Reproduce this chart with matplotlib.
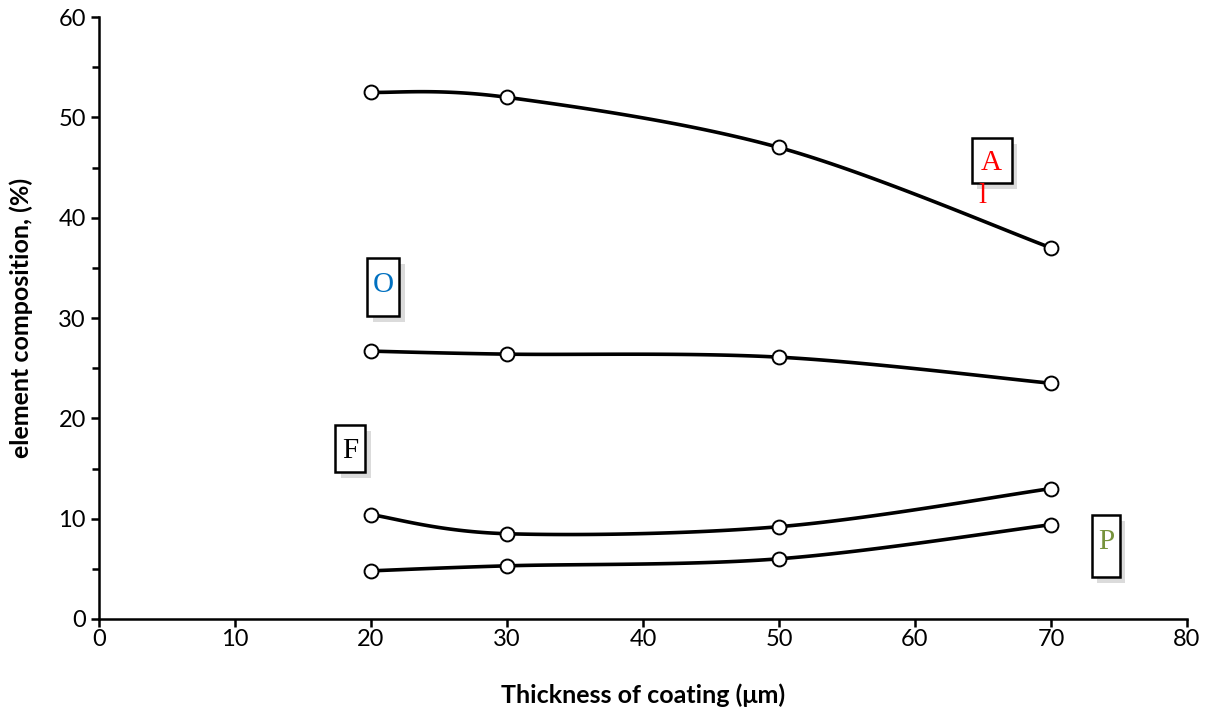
import matplotlib
matplotlib.use('Agg')
import matplotlib.pyplot as plt
import matplotlib.patheffects as pe
from matplotlib.patches import Rectangle
from matplotlib.ticker import MultipleLocator
import numpy as np

thickness = [20, 30, 50, 70]
al = [52.5, 52.0, 47.0, 37.0]
oxy = [26.7, 26.4, 26.1, 23.5]
fl = [10.4, 8.5, 9.2, 13.0]
ph = [4.8, 5.3, 6.0, 9.4]


def smooth(xs, ys, n=40):
    # Excel-style smoothed line (Catmull-Rom through the points)
    x = np.asarray(xs, float)
    y = np.asarray(ys, float)
    px = np.concatenate([[x[0]], x, [x[-1]]])
    py = np.concatenate([[y[0]], y, [y[-1]]])
    ox, oy = [], []
    for i in range(1, len(px) - 2):
        p0, p1, p2, p3 = (np.array([px[j], py[j]]) for j in (i - 1, i, i + 1, i + 2))
        c1 = p1 + (p2 - p0) / 6
        c2 = p2 - (p3 - p1) / 6
        t = np.linspace(0, 1, n)[:, None]
        b = (1 - t) ** 3 * p1 + 3 * (1 - t) ** 2 * t * c1 + 3 * (1 - t) * t ** 2 * c2 + t ** 3 * p2
        ox.extend(b[:, 0]); oy.extend(b[:, 1])
    return ox, oy


plt.rcParams.update({'font.family': 'Lato', 'font.size': 17})
fig = plt.figure(figsize=(12.05, 7.11), dpi=100)
ax = fig.add_axes([0.0822, 0.1294, 0.9028, 0.8466])

for ys in [al, oxy, fl, ph]:
    sx, sy = smooth(thickness, ys)
    ax.plot(sx, sy, color='black', lw=2.6, zorder=2)
    ax.plot(thickness, ys, 'o', ms=10, mfc='white', mec='black', mew=1.4, zorder=3)

ax.set_xlim(0, 80)
ax.set_ylim(0, 60)
ax.xaxis.set_major_locator(MultipleLocator(10))
ax.yaxis.set_major_locator(MultipleLocator(10))
ax.yaxis.set_minor_locator(MultipleLocator(5))
ax.tick_params(axis='both', which='major', direction='out', length=6, width=1.8, labelsize=17)
ax.tick_params(axis='y', which='minor', direction='out', length=5, width=1.8)
ax.tick_params(axis='x', pad=1)
for s in ['top', 'right']:
    ax.spines[s].set_visible(False)
for s in ['left', 'bottom']:
    ax.spines[s].set_linewidth(1.8)

ax.set_xlabel('Thickness of coating (μm)', fontsize=18, fontweight='bold', labelpad=24)
ax.set_ylabel('element composition, (%)', fontsize=18, fontweight='bold', labelpad=18)

boxes = [
    ('A', 'red', (64.19, 43.46), 2.94, 4.48, (65.6, 45.45)),
    ('O', '#0070C0', (19.71, 30.2), 2.35, 5.78, (20.88, 33.29)),
    ('F', 'black', (17.35, 14.65), 2.21, 4.69, (18.5, 16.74)),
    ('P', '#77933C', (73.01, 4.19), 2.06, 6.18, (74.1, 7.67)),
]
shadow = [pe.SimplePatchShadow(offset=(4, -4), shadow_rgbFace='#999999', alpha=0.35), pe.Normal()]
for txt, col, xy, w, h, tpos in boxes:
    r = Rectangle(xy, w, h, facecolor='white', edgecolor='black', lw=1.8, zorder=4)
    r.set_path_effects(shadow)
    ax.add_patch(r)
    ax.text(*tpos, txt, color=col, family='Liberation Serif', fontsize=21,
            ha='center', va='center', zorder=5)
ax.text(65.0, 42.2, 'l', color='red', family='Liberation Serif', fontsize=21,
        ha='center', va='center', zorder=5)

fig.savefig('out.png', dpi=100)
